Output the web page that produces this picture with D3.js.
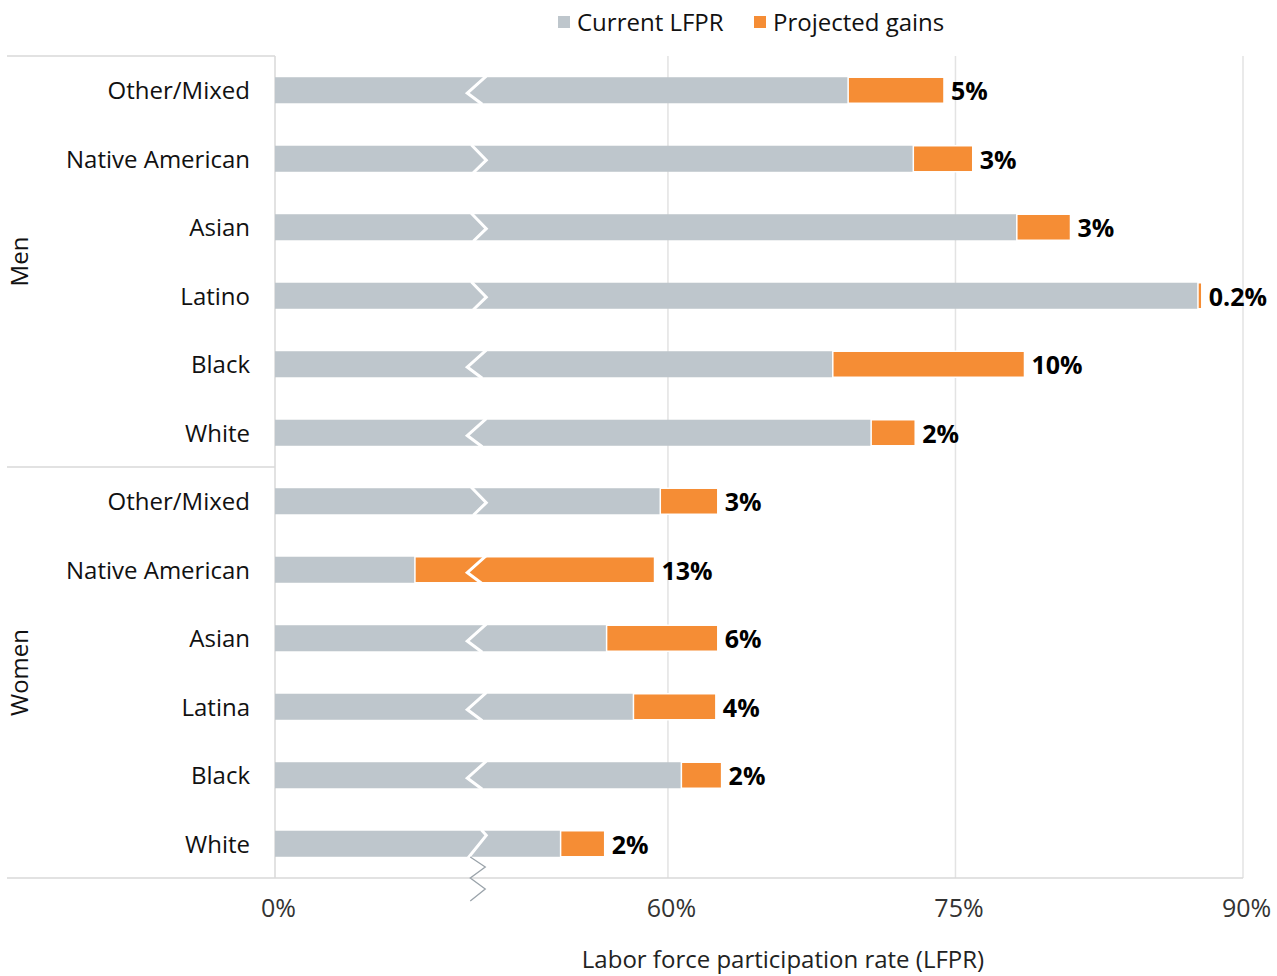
<!DOCTYPE html>
<html><head><meta charset="utf-8">
<script src="https://cdn.jsdelivr.net/npm/d3@7"></script>
<style>
html,body{margin:0;padding:0;background:#fff;}
svg{display:block;font-family:"Open Sans",sans-serif;}
</style></head>
<body><svg id="c" width="1277" height="976"></svg>
<script>
const groups = ["Men","Women"];
const categories = ["Other/Mixed","Native American","Asian","Latino","Black","White",
                    "Other/Mixed","Native American","Asian","Latina","Black","White"];
const groupOf = ["Men","Men","Men","Men","Men","Men","Women","Women","Women","Women","Women","Women"];
const current = [69.4, 72.8, 78.2, 87.65, 68.6, 70.6, 59.6, 46.8, 56.8, 58.2, 60.7, 54.4];
const gains   = [5.0, 3.1, 2.8, 0.2, 10.0, 2.3, 3.0, 12.5, 5.8, 4.3, 2.1, 2.3];
const gainLabels = ["5%","3%","3%","0.2%","10%","2%","3%","13%","6%","4%","2%","2%"];
const tickValues = [39.5, 60, 75, 90];
const tickLabels = ["0%","60%","75%","90%"];
const breakValue = 50;
const seriesNames = ["Current LFPR","Projected gains"];
const colors = ["#bec6cc","#f58d35"];
// shape of the axis-break mark drawn across each bar (style only)
const breakShape = ["<",">",">",">","<","<",">","<","<","<","<","/"];

const FONT = "'Open Sans',sans-serif";
const svg = d3.select("#c");
const L = 275, R = 1243, T = 56, B = 878;
const x = d3.scaleLinear().domain([39.5, 90]).range([L, R]);
const y = d3.scaleBand().domain(d3.range(categories.length)).range([T, B]).paddingInner(0.62).paddingOuter(0.31);

// gridlines
svg.append("g").selectAll("line").data(tickValues.slice(1)).join("line")
  .attr("x1", d => x(d)).attr("x2", d => x(d)).attr("y1", T).attr("y2", B)
  .attr("stroke", "#e3e3e3").attr("stroke-width", 1.5);

// frame lines
const frame = svg.append("g").attr("stroke", "#d9d9d9").attr("stroke-width", 1.5);
frame.append("line").attr("x1", L).attr("x2", L).attr("y1", T).attr("y2", B);
frame.append("line").attr("x1", 7).attr("x2", L).attr("y1", T).attr("y2", T);
frame.append("line").attr("x1", 7).attr("x2", R).attr("y1", B).attr("y2", B);
const sepY = (y(5) + y.bandwidth() + y(6)) / 2;
frame.append("line").attr("x1", 7).attr("x2", L).attr("y1", sepY).attr("y2", sepY);

// bars
const rows = svg.append("g").selectAll("g").data(categories).join("g");
rows.append("rect")
  .attr("x", x(39.5)).attr("y", (d,i) => y(i))
  .attr("width", (d,i) => x(current[i]) - x(39.5)).attr("height", y.bandwidth())
  .attr("fill", colors[0]);
rows.append("rect")
  .attr("x", (d,i) => x(current[i])).attr("y", (d,i) => y(i))
  .attr("width", (d,i) => x(current[i] + gains[i]) - x(current[i])).attr("height", y.bandwidth())
  .attr("fill", colors[1]).attr("stroke", "#fff").attr("stroke-width", 1.5);

// break marks on bars
const bx = x(breakValue);
rows.append("path")
  .attr("d", (d,i) => {
    const t = y(i) - 1, b = y(i) + y.bandwidth() + 1, h = b - t;
    const s = breakShape[i];
    if (s === "<") return `M${bx+10},${t} L${bx-9},${t + h*0.6} L${bx+6},${b}`;
    if (s === ">") return `M${bx-5},${t} L${bx+10},${t + h*0.55} L${bx-3},${b}`;
    return `M${bx+5},${t} L${bx+10},${t + h*0.2} L${bx-8},${b}`;
  })
  .attr("fill", "none").attr("stroke", "#fff").attr("stroke-width", 3);

// value labels
rows.append("text")
  .attr("x", (d,i) => x(current[i] + gains[i]) + 7)
  .attr("y", (d,i) => y(i) + y.bandwidth() / 2 + 10)
  .attr("font-size", 25).attr("font-weight", "bold").attr("fill", "#000")
  .text((d,i) => gainLabels[i]);

// category labels
rows.append("text")
  .attr("x", 250).attr("y", (d,i) => y(i) + y.bandwidth() / 2 + 9)
  .attr("text-anchor", "end")
  .attr("font-size", 24).attr("fill", "#111")
  .text(d => d);

// group labels
groups.forEach(g => {
  const idx = groupOf.map((v,i) => v === g ? i : -1).filter(i => i >= 0);
  const cy = (y(idx[0]) + y(idx[idx.length-1]) + y.bandwidth()) / 2;
  svg.append("text")
    .attr("transform", `translate(28,${cy}) rotate(-90)`)
    .attr("text-anchor", "middle").attr("font-size", 24).attr("fill", "#111")
    .text(g);
});

// x axis
const ax = svg.append("g").attr("transform", `translate(0,${B})`)
  .call(d3.axisBottom(x).tickValues(tickValues).tickFormat((d,i) => tickLabels[i]).tickSize(0).tickPadding(21));
ax.select(".domain").remove();
ax.selectAll("text").attr("font-size", 25).attr("fill", "#333").attr("font-family", FONT).attr("dx", 3);

// axis break zigzag below axis
svg.append("path")
  .attr("d", `M${bx-6},${B-21} L${bx+9},${B-11} L${bx-6},${B} L${bx+9},${B+11} L${bx-6},${B+23}`)
  .attr("stroke", "#9aa3aa").attr("stroke-width", 1.3).attr("fill", "none");

// axis title
svg.append("text").attr("x", 783).attr("y", 968).attr("text-anchor", "middle")
  .attr("font-size", 24).attr("fill", "#222").text("Labor force participation rate (LFPR)");

// legend
const lg = svg.append("g");
const legendX = [558, 754];
seriesNames.forEach((s,i) => {
  lg.append("rect").attr("x", legendX[i]).attr("y", 16).attr("width", 12).attr("height", 12).attr("fill", colors[i]);
  lg.append("text").attr("x", legendX[i] + 19).attr("y", 31)
    .attr("font-size", 24).attr("fill", "#111").text(s);
});
</script></body></html>
